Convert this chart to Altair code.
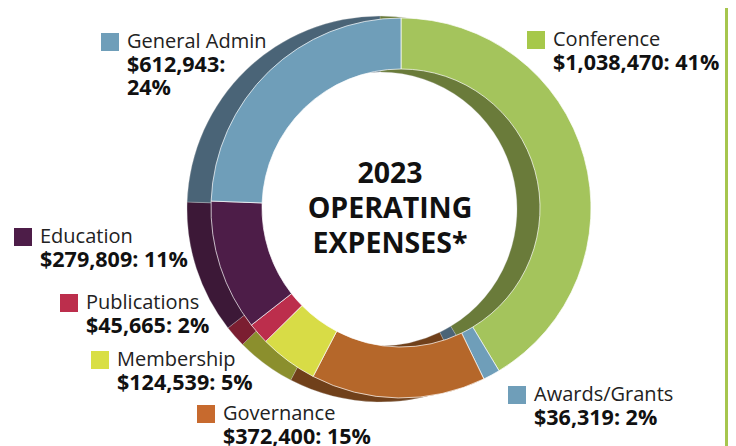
import altair as alt
import pandas as pd

# ---------------- data ----------------
categories = ["Conference", "Awards/Grants", "Governance", "Membership",
              "Publications", "Education", "General Admin"]
amounts = [1038470, 36319, 372400, 124539, 45665, 279809, 612943]
percents = [41, 2, 15, 5, 2, 11, 24]

# ---------------- styles ----------------
front_colors = ["#A4C45C", "#6F9EB9", "#B5672A", "#D8DC46",
                "#BC2E4C", "#4D1D48", "#6F9EB9"]
side_colors = ["#6A7B3A", "#4A6477", "#70401A", "#8B8F2D",
               "#7B1E31", "#3C1837", "#4A6477"]
swatch_colors = ["#A6C84A", "#6F9EB9", "#C76A2E", "#D9DF45",
                 "#BC2E4C", "#4D1D48", "#6F9EB9"]

# label anchors (chart pixels: left edge of name text, name baseline)
label_pos = {
    "Conference": (545, 38),
    "Awards/Grants": (526, 393),
    "Governance": (215, 412),
    "Membership": (109, 358),
    "Publications": (78, 301),
    "Education": (32, 235),
    "General Admin": (119, 40),
}
wrap_value = {"General Admin"}

W, H = 720, 438
CX, CY = 393, 200
R_OUT, R_IN = 190, 139
SHIFT = 21

df = pd.DataFrame({
    "cat": categories,
    "amount": amounts,
    "idx": list(range(len(categories))),
})

lab_rows = []
for c, a, p in zip(categories, amounts, percents):
    lx, ly = label_pos[c]
    sep = "\n" if c in wrap_value else " "
    lab_rows.append({
        "cat": c,
        "name": c,
        "val": f"${a:,}:{sep}{p}%",
        "x": lx,
        "y": ly,
        "vy": ly + 24,
        "sx": lx - 17,
        "sy": ly - 6,
    })
labs = pd.DataFrame(lab_rows)

theta = alt.Theta("amount:Q", stack=True)
order = alt.Order("idx:Q")

back = alt.Chart(df).mark_arc(
    innerRadius=R_IN - 2, outerRadius=R_OUT + 3, stroke="#cfcfcf", strokeWidth=0.3
).encode(
    theta=theta, order=order,
    x=alt.value(CX - SHIFT), y=alt.value(CY + 1),
    color=alt.Color("cat:N", scale=alt.Scale(domain=categories, range=side_colors), legend=None),
)

front = alt.Chart(df).mark_arc(
    innerRadius=R_IN, outerRadius=R_OUT, stroke="white", strokeWidth=0.7
).encode(
    theta=theta, order=order,
    x=alt.value(CX), y=alt.value(CY),
    color=alt.Color("cat:N", scale=alt.Scale(domain=categories, range=front_colors), legend=None),
)

swatches = alt.Chart(labs).mark_square(size=324, opacity=1).encode(
    x=alt.X("sx:Q", scale=None, axis=None),
    y=alt.Y("sy:Q", scale=None, axis=None),
    fill=alt.Fill("cat:N", scale=alt.Scale(domain=categories, range=swatch_colors), legend=None),
)

names = alt.Chart(labs).mark_text(
    align="left", baseline="alphabetic", font="Open Sans", fontSize=20,
    fontWeight=400, color="#222222"
).encode(
    x=alt.X("x:Q", scale=None, axis=None),
    y=alt.Y("y:Q", scale=None, axis=None),
    text="name:N",
)

vals = alt.Chart(labs).mark_text(
    align="left", baseline="alphabetic", font="Open Sans", fontSize=21.5,
    fontWeight="bold", color="#111111", lineBreak="\n", lineHeight=23
).encode(
    x=alt.X("x:Q", scale=None, axis=None),
    y=alt.Y("vy:Q", scale=None, axis=None),
    text="val:N",
)

title_df = pd.DataFrame({"t": ["2023\nOPERATING\nEXPENSES*"], "x": [382], "y": [175]})
title = alt.Chart(title_df).mark_text(
    align="center", baseline="alphabetic", font="Open Sans", fontSize=28.5,
    fontWeight="bold", color="#111111", lineBreak="\n", lineHeight=35
).encode(
    x=alt.X("x:Q", scale=None, axis=None),
    y=alt.Y("y:Q", scale=None, axis=None),
    text="t:N",
)

edge = alt.Chart(pd.DataFrame({"a": [0]})).mark_rule(
    color="#A6C64E", strokeWidth=3
).encode(
    x=alt.value(718.5), y=alt.value(0), y2=alt.value(H),
)

chart = alt.layer(back, front, swatches, names, vals, title, edge).resolve_scale(
    color="independent", fill="independent"
).properties(
    width=W, height=H, autosize=alt.AutoSizeParams(type="none"), padding=0
).configure_view(stroke=None)

chart.save("out.html", embed_options={"renderer": "svg", "actions": False})
